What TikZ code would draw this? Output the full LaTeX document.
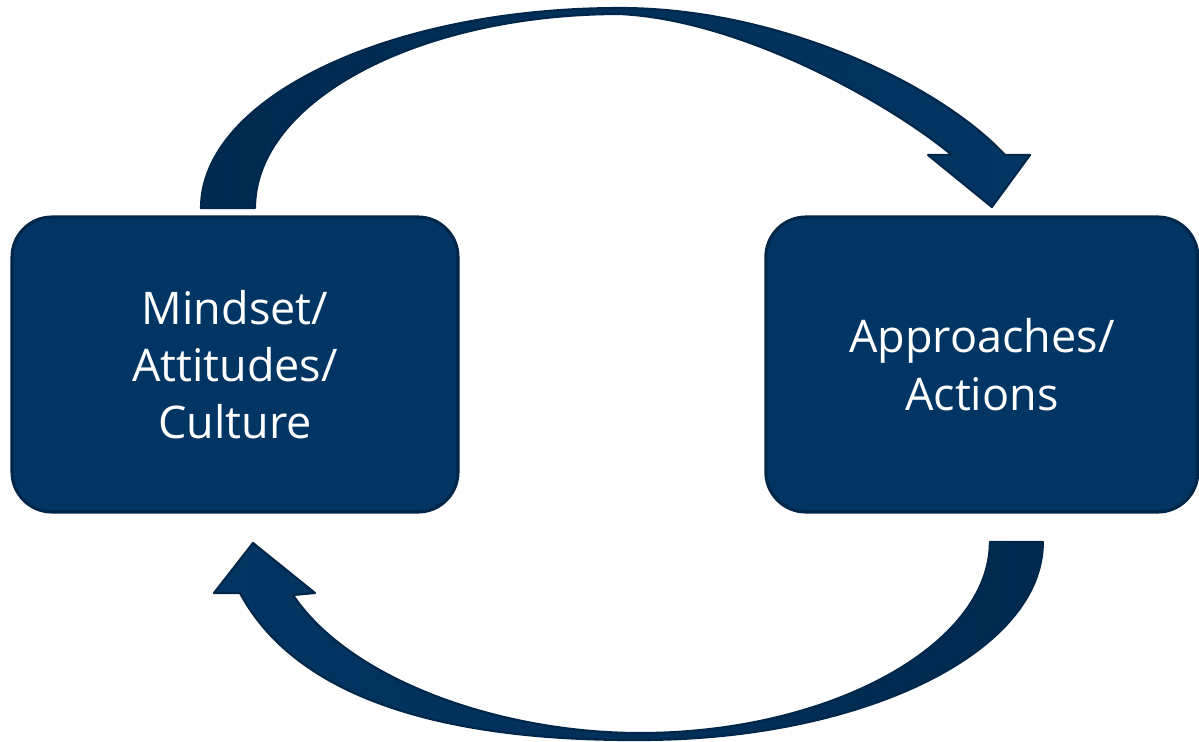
\documentclass[tikz,border=0pt]{standalone}
\usepackage{fontspec}
\setmainfont{Open Sans}
\usepackage{tikz}
\usetikzlibrary{positioning, calc}
\definecolor{CycleBlue}{RGB}{1,53,99}
\definecolor{CycleDark}{RGB}{0,38,74}
\definecolor{CycleTail}{RGB}{0,42,80}
\tikzset{
    cyclebox/.style={rectangle, rounded corners=0.8cm, minimum height=5.9cm,
        text centered, align=center, draw=CycleDark, line width=1.8pt, fill=CycleBlue,
        text=white, inner sep=0pt, outer sep=0pt, font=\fontsize{25.6}{32.6}\selectfont},
    cyclearrow/.style={draw=CycleDark, line width=1.2pt, line join=round},
}

\begin{document}
\begin{tikzpicture}[x=0.02cm, y=-0.02cm]
    \useasboundingbox (0,0) rectangle (1199,741);
    % the two stages of the cycle
    \node[cyclebox, minimum width=8.92cm] (mind) at (235,364.5) {Mindset/\\Attitudes/\\Culture};
    \node[cyclebox, minimum width=8.64cm, right=6.16cm of mind] (act) {Approaches/\\Actions};

    % upper block arrow: mind -> act
    \path[cyclearrow, left color=CycleTail, right color=CycleBlue]
        ($(mind.north)+(-34,-9)$) .. controls (201,98) and (389,8) .. (620,8)
        .. controls (780,8) and (940,85) .. (1005,155) -- (1030,155)
        -- ($(act.north)+(10,-10)$) -- (928,155) -- (952,155)
        .. controls (885,100) and (740,20) .. (620,14)
        .. controls (418,14) and (255,101) .. ($(mind.north)+(20,-9)$) -- cycle;

    % lower block arrow: act -> mind
    \path[cyclearrow, left color=CycleBlue, right color=CycleTail]
        ($(act.south)+(61,30)$) .. controls (1043,652) and (863,740) .. (640,740)
        .. controls (460,741) and (300,705) .. (240,593) -- (214,593)
        -- ($(mind.south)+(18,31)$) -- (315,593) -- (293,595)
        .. controls (350,680) and (500,733) .. (640,733)
        .. controls (830,733) and (990,645) .. ($(act.south)+(8,30)$) -- cycle;
\end{tikzpicture}
\end{document}
